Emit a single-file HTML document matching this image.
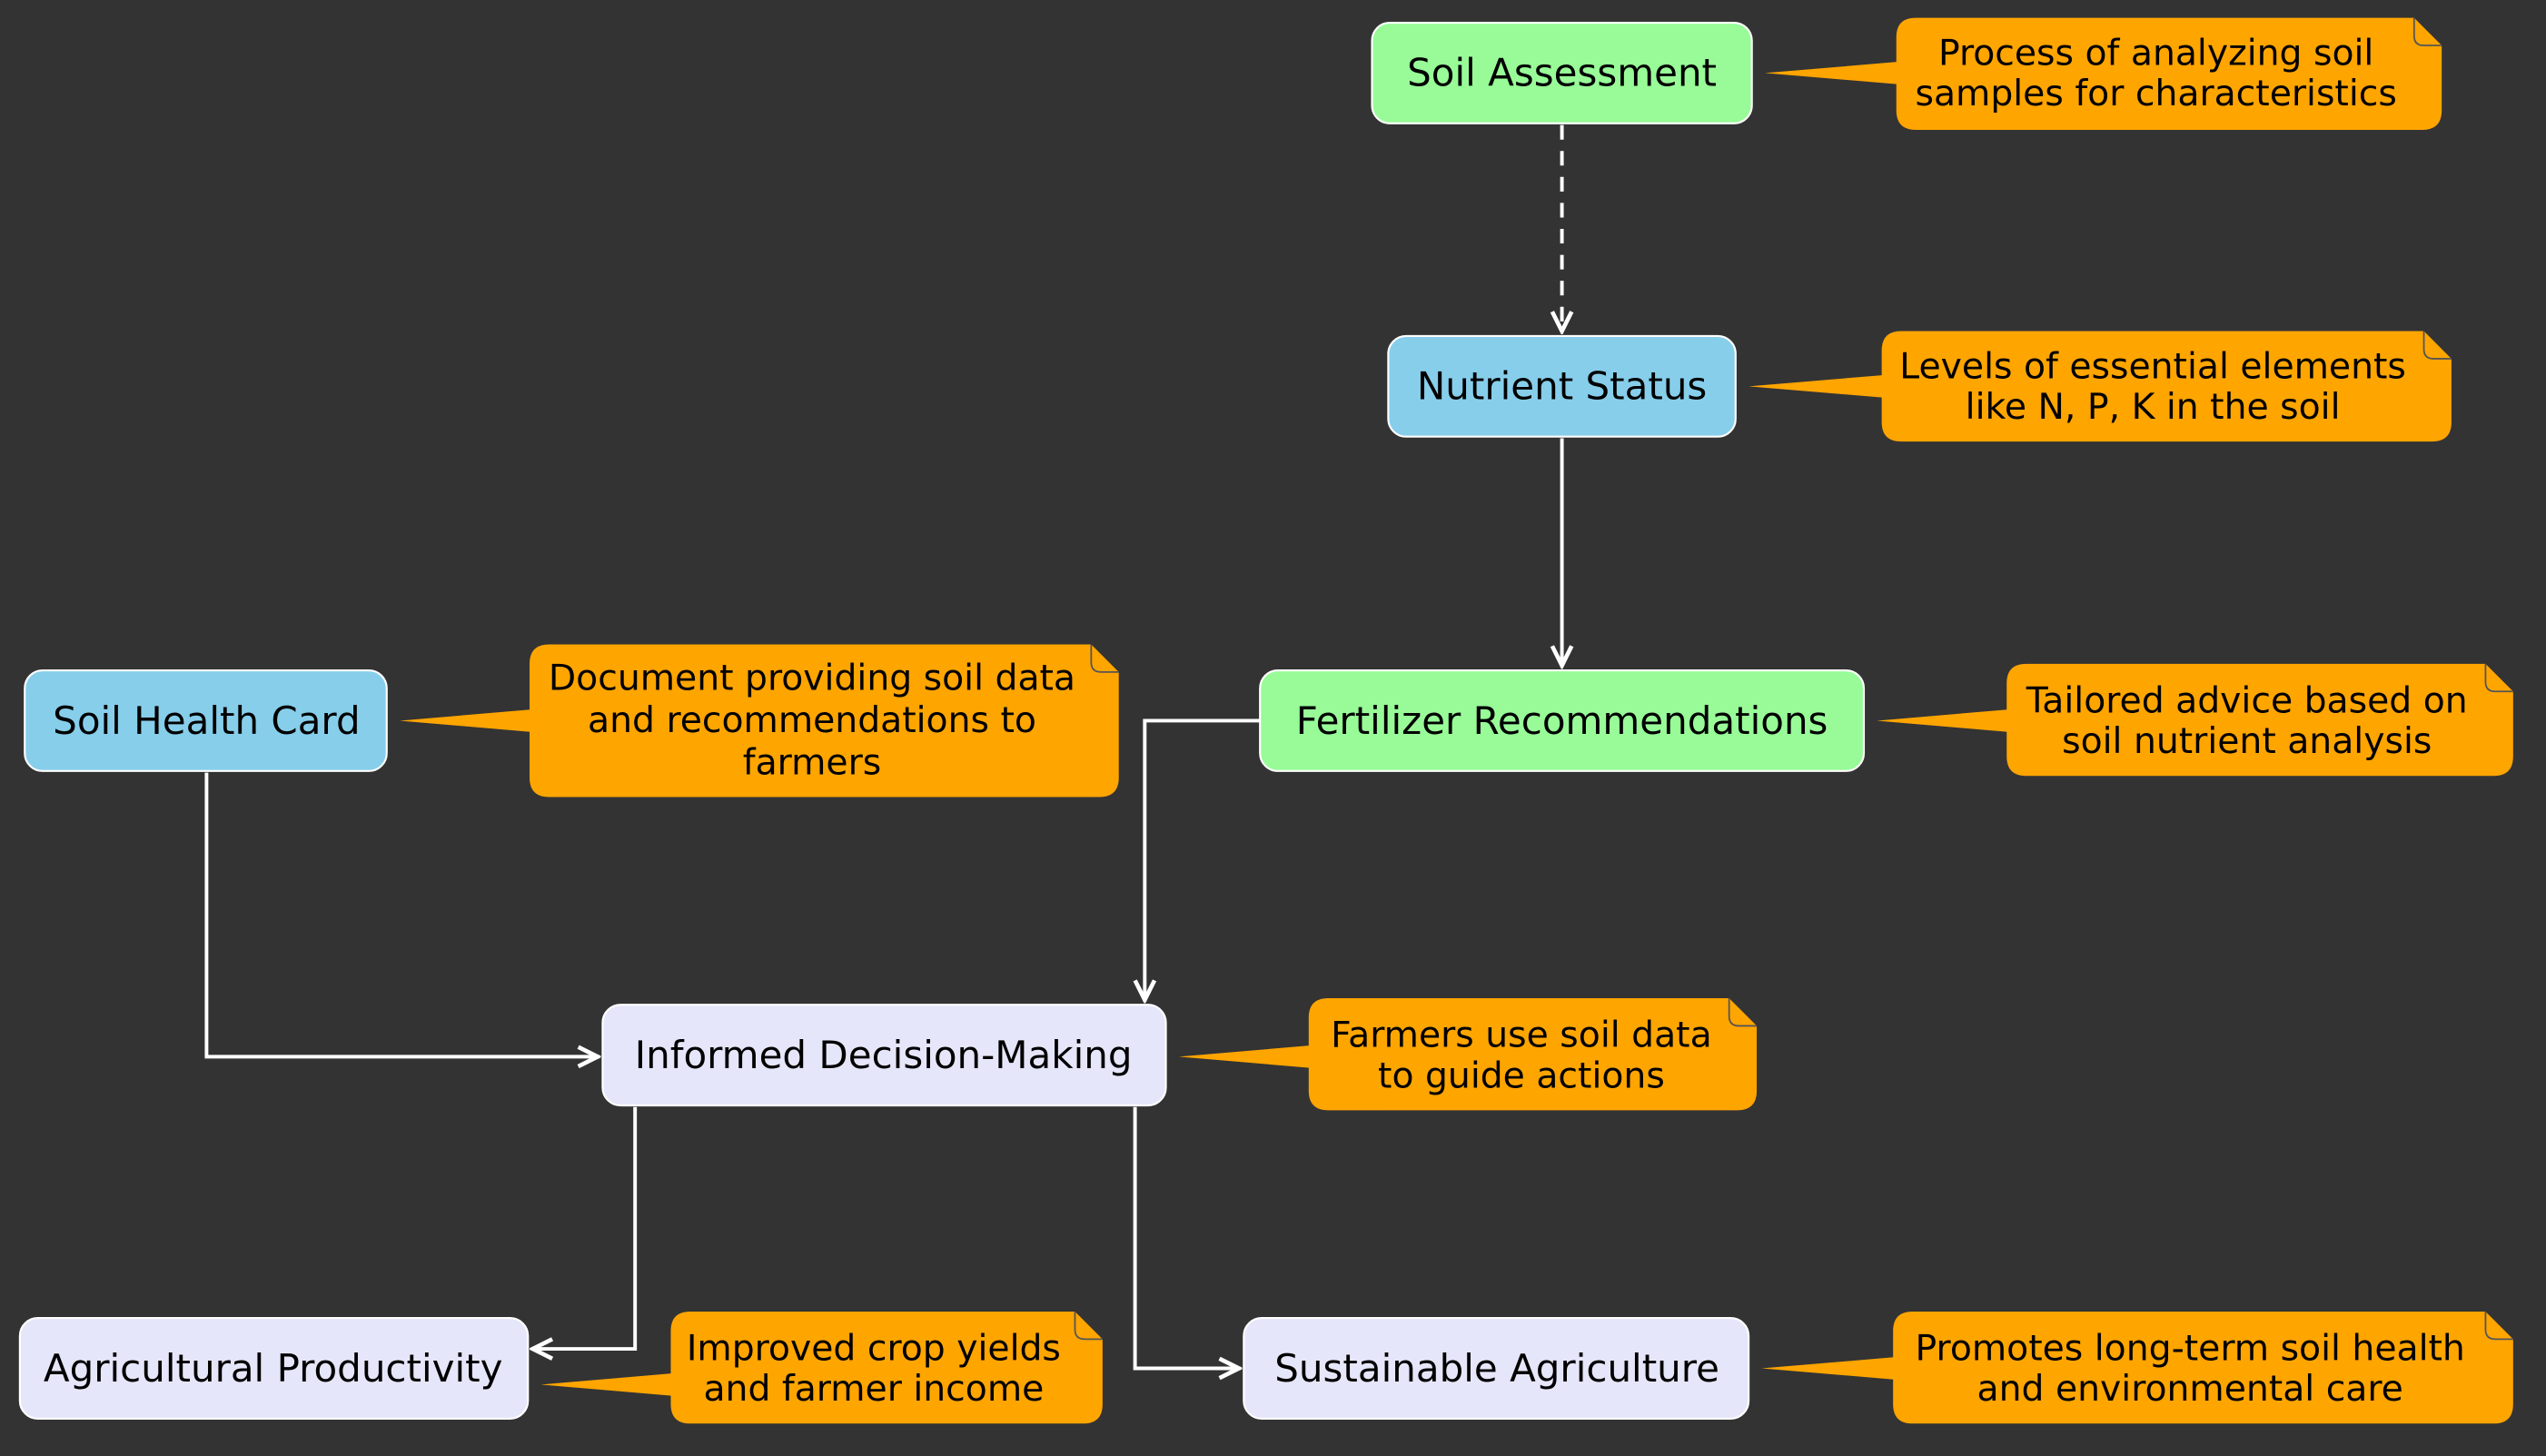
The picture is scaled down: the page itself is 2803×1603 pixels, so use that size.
<!DOCTYPE html>
<html><head><meta charset="utf-8"><style>
html,body{margin:0;padding:0;background:#333;}
svg{display:block}
text{font-family:"DejaVu Sans","Liberation Sans",sans-serif;font-size:22px;fill:#000;text-anchor:middle}
text.n{font-size:23.5px}
</style></head><body>
<svg width="2803" height="1603" viewBox="0 0 1568 897" xmlns="http://www.w3.org/2000/svg">
<defs>
<marker id="a" viewBox="0 0 16 16" refX="15" refY="8" markerWidth="16" markerHeight="16" markerUnits="userSpaceOnUse" orient="auto">
<path d="M2,2 L14,8 L2,14" fill="none" stroke="#fff" stroke-width="2.6"/>
</marker>
</defs>
<rect width="1568" height="897" fill="#333"/>
<g fill="none" stroke="#fff" stroke-width="2.2">
<path d="M962,77 V205" stroke-dasharray="9,7" marker-end="url(#a)"/>
<path d="M962,270 V411" marker-end="url(#a)"/>
<path d="M776,444 H705 V617" marker-end="url(#a)"/>
<path d="M127,476 V651 H369" marker-end="url(#a)"/>
<path d="M391,682 V831 H327" marker-end="url(#a)"/>
<path d="M699,682 V843 H764" marker-end="url(#a)"/>
</g>
<g stroke="#fff" stroke-width="1.2">
<rect x="845" y="14" width="234" height="62" rx="11" fill="#98fb98"/>
<rect x="855" y="207" width="214" height="62" rx="11" fill="#87ceeb"/>
<rect x="776" y="413" width="372" height="62" rx="11" fill="#98fb98"/>
<rect x="15" y="413" width="223" height="62" rx="11" fill="#87ceeb"/>
<rect x="371" y="619" width="347" height="62" rx="11" fill="#e6e6fa"/>
<rect x="12" y="812" width="313" height="62" rx="11" fill="#e6e6fa"/>
<rect x="766" y="812" width="311" height="62" rx="11" fill="#e6e6fa"/>
</g>
<text class="n" x="962" y="53">Soil Assessment</text>
<text class="n" x="962" y="246">Nutrient Status</text>
<text class="n" x="962" y="452">Fertilizer Recommendations</text>
<text class="n" x="127" y="452">Soil Health Card</text>
<text class="n" x="544" y="658">Informed Decision-Making</text>
<text class="n" x="168" y="851">Agricultural Productivity</text>
<text class="n" x="922" y="851">Sustainable Agriculture</text>
<g fill="#ffa500">
<path d="M1087,45 L1170,38 V52 Z"/>
<path d="M1180,11 H1487 L1504,28 V68 Q1504,80 1492,80 H1180 Q1168,80 1168,68 V23 Q1168,11 1180,11 Z"/>
<path d="M1077,238 L1161,231 V245 Z"/>
<path d="M1171,204 H1493 L1510,221 V260 Q1510,272 1498,272 H1171 Q1159,272 1159,260 V216 Q1159,204 1171,204 Z"/>
<path d="M246,444 L328,437 V451 Z"/>
<path d="M338,397 H672 L689,414 V479 Q689,491 677,491 H338 Q326,491 326,479 V409 Q326,397 338,397 Z"/>
<path d="M1156,444 L1238,437 V451 Z"/>
<path d="M1248,409 H1531 L1548,426 V466 Q1548,478 1536,478 H1248 Q1236,478 1236,466 V421 Q1236,409 1248,409 Z"/>
<path d="M726,651 L808,644 V658 Z"/>
<path d="M818,615 H1065 L1082,632 V672 Q1082,684 1070,684 H818 Q806,684 806,672 V627 Q806,615 818,615 Z"/>
<path d="M333,853 L415,846 V860 Z"/>
<path d="M425,808 H662 L679,825 V865 Q679,877 667,877 H425 Q413,877 413,865 V820 Q413,808 425,808 Z"/>
<path d="M1085,843 L1168,836 V850 Z"/>
<path d="M1178,808 H1531 L1548,825 V865 Q1548,877 1536,877 H1178 Q1166,877 1166,865 V820 Q1166,808 1178,808 Z"/>
</g>
<g fill="none" stroke="#555" stroke-width="1">
<path d="M1487,11 V22 Q1487,28 1493,28 H1504"/>
<path d="M1493,204 V215 Q1493,221 1499,221 H1510"/>
<path d="M672,397 V408 Q672,414 678,414 H689"/>
<path d="M1531,409 V420 Q1531,426 1537,426 H1548"/>
<path d="M1065,615 V626 Q1065,632 1071,632 H1082"/>
<path d="M662,808 V819 Q662,825 668,825 H679"/>
<path d="M1531,808 V819 Q1531,825 1537,825 H1548"/>
</g>
<text x="1328" y="40">Process of analyzing soil</text>
<text x="1328" y="65">samples for characteristics</text>
<text x="1326" y="233">Levels of essential elements</text>
<text x="1326" y="258">like N, P, K in the soil</text>
<text x="500" y="425">Document providing soil data</text>
<text x="500" y="451">and recommendations to</text>
<text x="500" y="477">farmers</text>
<text x="1384" y="439">Tailored advice based on</text>
<text x="1384" y="464">soil nutrient analysis</text>
<text x="937" y="645">Farmers use soil data</text>
<text x="937" y="670">to guide actions</text>
<text x="538" y="838">Improved crop yields</text>
<text x="538" y="863">and farmer income</text>
<text x="1349" y="838">Promotes long-term soil health</text>
<text x="1349" y="863">and environmental care</text>
</svg>
</body></html>
